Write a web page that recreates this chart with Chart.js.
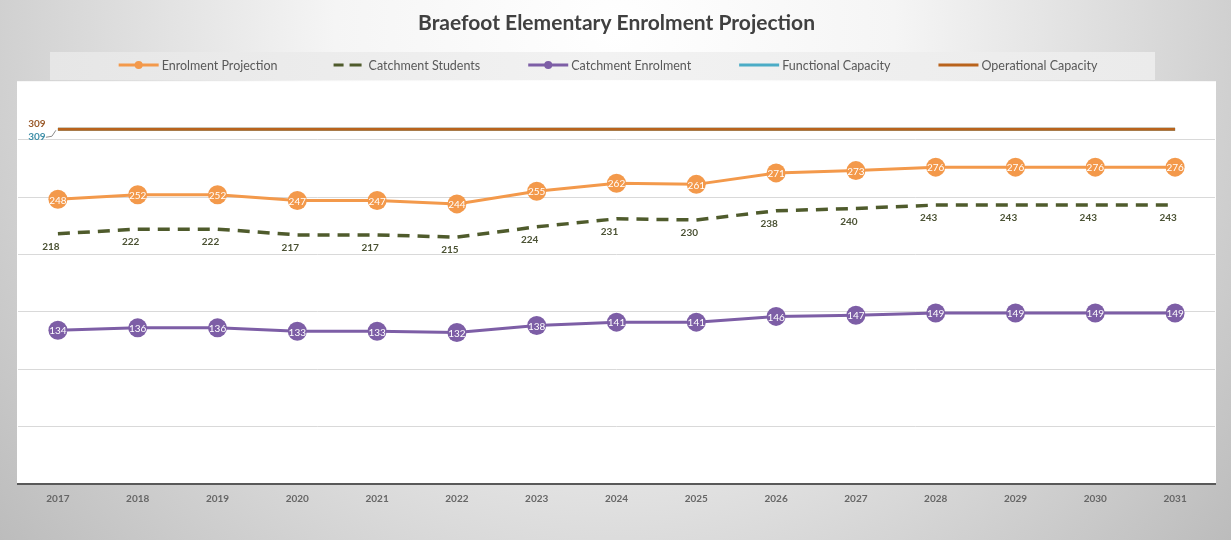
<!DOCTYPE html>
<html>
<head>
<meta charset="utf-8">
<title>Braefoot Elementary Enrolment Projection</title>
<script src="https://cdn.jsdelivr.net/npm/chart.js@4.4.1/dist/chart.umd.min.js"></script>
<style>
  html, body { margin: 0; padding: 0; background: #fff; }
  #wrap { width: 1231px; height: 540px; }
</style>
</head>
<body>
<div id="wrap"><canvas id="enrolChart" width="1231" height="540"></canvas></div>
<script>
// values
const years = ['2017', '2018', '2019', '2020', '2021', '2022', '2023', '2024',
               '2025', '2026', '2027', '2028', '2029', '2030', '2031'];
const enrolmentProjection = [248, 252, 252, 247, 247, 244, 255, 262, 261, 271, 273, 276, 276, 276, 276];
const catchmentStudents   = [218, 222, 222, 217, 217, 215, 224, 231, 230, 238, 240, 243, 243, 243, 243];
const catchmentEnrolment  = [134, 136, 136, 133, 133, 132, 138, 141, 141, 146, 147, 149, 149, 149, 149];
const functionalCapacity  = [309, 309, 309, 309, 309, 309, 309, 309, 309, 309, 309, 309, 309, 309, 309];
const operationalCapacity = [309, 309, 309, 309, 309, 309, 309, 309, 309, 309, 309, 309, 309, 309, 309];
const yTicks = { min: 0, max: 350, step: 50 };

const ORANGE = '#F3994B';
const OLIVE = '#4F5B2C';
const PURPLE = '#7D5EA6';
const BLUE = '#4BACC6';
const BROWN = '#B9631C';
const FONT = 'Lato, "Open Sans", sans-serif';

// background, legend bar and white plot panel
const backdrop = {
  id: 'backdrop',
  beforeDraw(chart) {
    const ctx = chart.ctx, a = chart.chartArea;
    ctx.save();
    const g = ctx.createRadialGradient(615, 30, 0, 615, 30, 800);
    g.addColorStop(0, '#ffffff');
    g.addColorStop(0.35, '#f5f5f5');
    g.addColorStop(1, '#bcbcbc');
    ctx.fillStyle = g;
    ctx.fillRect(0, 0, chart.width, chart.height);

    const lg = ctx.createLinearGradient(50, 0, 1155, 0);
    lg.addColorStop(0, '#e6e6e6');
    lg.addColorStop(0.5, '#f2f2f2');
    lg.addColorStop(1, '#ebebeb');
    ctx.fillStyle = lg;
    ctx.fillRect(50, 52, 1105, 28);

    ctx.fillStyle = '#ffffff';
    ctx.fillRect(a.left - 1, a.top - 1, a.right - a.left + 2, a.bottom - a.top + 1);
    ctx.restore();
  }
};

// legend drawn by hand so the item spacing matches the picture
const lineLegend = {
  id: 'lineLegend',
  afterDraw(chart) {
    const ctx = chart.ctx;
    const sets = chart.data.datasets;
    ctx.save();
    ctx.font = '12.5px ' + FONT;
    ctx.textBaseline = 'middle';
    const iconW = 40, gapIcon = 3, gapItem = 48, y = 65;
    const widths = sets.map(d => iconW + gapIcon + ctx.measureText(d.label).width);
    const total = widths.reduce((s, w) => s + w, 0) + gapItem * (sets.length - 1);
    let x = 608 - total / 2;
    sets.forEach((d, i) => {
      ctx.strokeStyle = d.borderColor;
      ctx.lineWidth = 3;
      ctx.beginPath();
      if (d.borderDash) {
        ctx.moveTo(x + 8, y); ctx.lineTo(x + 18, y);
        ctx.moveTo(x + 24, y); ctx.lineTo(x + 36, y);
      } else {
        ctx.moveTo(x, y); ctx.lineTo(x + iconW, y);
      }
      ctx.stroke();
      if (d.pointRadius > 0) {
        ctx.fillStyle = d.borderColor;
        ctx.beginPath();
        ctx.arc(x + iconW / 2, y, 4, 0, Math.PI * 2);
        ctx.fill();
      }
      ctx.fillStyle = '#595959';
      ctx.textAlign = 'left';
      ctx.fillText(d.label, x + iconW + gapIcon, y + 1);
      x += widths[i] + gapItem;
    });
    ctx.restore();
  }
};

// value labels
const valueLabels = {
  id: 'valueLabels',
  afterDatasetsDraw(chart) {
    const ctx = chart.ctx;
    ctx.save();
    ctx.textAlign = 'center';
    ctx.textBaseline = 'middle';
    chart.data.datasets.forEach((d, i) => {
      const meta = chart.getDatasetMeta(i);
      if (d.label === 'Enrolment Projection' || d.label === 'Catchment Enrolment') {
        ctx.font = '10px ' + FONT;
        ctx.fillStyle = '#ffffff';
        meta.data.forEach((p, k) => ctx.fillText(d.data[k], p.x, p.y + 1));
      } else if (d.label === 'Catchment Students') {
        ctx.font = 'bold 10px ' + FONT;
        ctx.fillStyle = '#4b5234';
        meta.data.forEach((p, k) => ctx.fillText(d.data[k], p.x - 7, p.y + 13));
      } else if (d.label === 'Operational Capacity') {
        const p = meta.data[0];
        ctx.font = 'bold 10px ' + FONT;
        ctx.fillStyle = '#9a5a2a';
        ctx.fillText(d.data[0], p.x - 21, p.y - 5);
      } else if (d.label === 'Functional Capacity') {
        const p = meta.data[0];
        ctx.font = 'bold 10px ' + FONT;
        ctx.fillStyle = '#3f8fa8';
        ctx.fillText(d.data[0], p.x - 21, p.y + 8);
        ctx.strokeStyle = '#8c8c8c';
        ctx.lineWidth = 1;
        ctx.beginPath();
        ctx.moveTo(p.x - 12, p.y + 8);
        ctx.lineTo(p.x - 6, p.y + 7);
        ctx.lineTo(p.x - 2, p.y + 1);
        ctx.stroke();
      }
    });
    ctx.restore();
  }
};

new Chart(document.getElementById('enrolChart'), {
  type: 'line',
  data: {
    labels: years,
    datasets: [
      {
        label: 'Enrolment Projection',
        data: enrolmentProjection,
        borderColor: ORANGE,
        backgroundColor: ORANGE,
        borderWidth: 3,
        pointRadius: 9.5,
        pointHoverRadius: 9.5,
        pointBorderWidth: 0,
        fill: false
      },
      {
        label: 'Catchment Students',
        data: catchmentStudents,
        borderColor: OLIVE,
        backgroundColor: OLIVE,
        borderWidth: 3.5,
        borderDash: [12, 8],
        pointRadius: 0,
        fill: false
      },
      {
        label: 'Catchment Enrolment',
        data: catchmentEnrolment,
        borderColor: PURPLE,
        backgroundColor: PURPLE,
        borderWidth: 3,
        pointRadius: 9.5,
        pointHoverRadius: 9.5,
        pointBorderWidth: 0,
        fill: false
      },
      {
        label: 'Functional Capacity',
        data: functionalCapacity,
        borderColor: BLUE,
        backgroundColor: BLUE,
        borderWidth: 3,
        pointRadius: 0,
        fill: false,
        order: 2
      },
      {
        label: 'Operational Capacity',
        data: operationalCapacity,
        borderColor: BROWN,
        backgroundColor: BROWN,
        borderWidth: 3,
        pointRadius: 0,
        fill: false,
        order: 1
      }
    ]
  },
  options: {
    responsive: false,
    animation: false,
    layout: { padding: { left: 18, right: 16, top: 0, bottom: 26 } },
    plugins: {
      legend: { display: false },
      tooltip: { enabled: false },
      title: {
        display: true,
        text: 'Braefoot Elementary Enrolment Projection',
        color: '#404040',
        font: { family: FONT, size: 21, weight: 'bold' },
        padding: { top: 11, bottom: 46 }
      }
    },
    scales: {
      x: {
        offset: true,
        grid: { display: false, drawTicks: false },
        border: { display: true, color: '#595959', width: 2 },
        ticks: {
          color: '#666666',
          padding: 9,
          font: { family: FONT, size: 10, weight: 'bold' },
          maxRotation: 0
        }
      },
      y: {
        min: yTicks.min,
        max: yTicks.max,
        ticks: { display: false, stepSize: yTicks.step },
        border: { display: false },
        grid: {
          drawTicks: false,
          lineWidth: 1,
          color: c => (c.tick && (c.tick.value === yTicks.min || c.tick.value === yTicks.max)) ? 'rgba(0,0,0,0)' : '#d9d9d9'
        }
      }
    }
  },
  plugins: [backdrop, lineLegend, valueLabels]
});
</script>
</body>
</html>
